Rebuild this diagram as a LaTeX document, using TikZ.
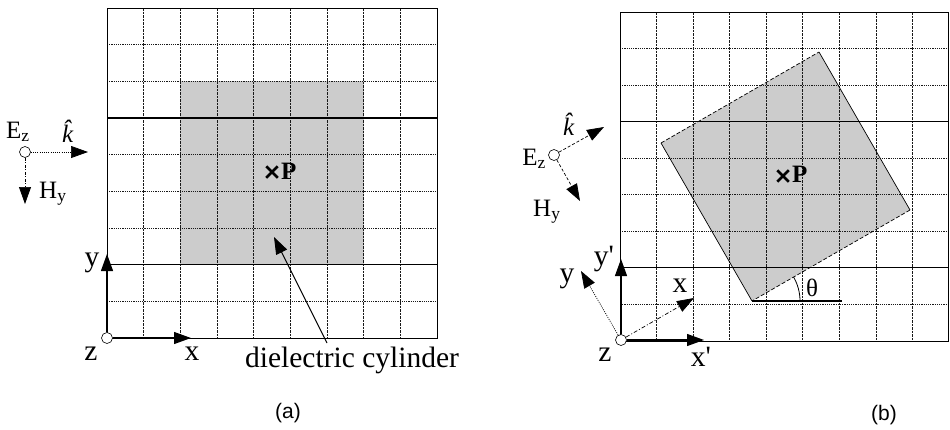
\documentclass[tikz,border=0pt]{standalone}
\usepackage{fontspec}
\setmainfont{Liberation Serif}
\newfontfamily\capfont{Liberation Sans}
\usetikzlibrary{arrows.meta,shapes.misc}
\begin{document}
\begin{tikzpicture}[x=1pt,y=-1pt,
  gridv/.style={line width=0.65pt, dash pattern=on 2.5pt off 1pt, black!90},
  gridh/.style={line width=0.65pt, dash pattern=on 1.2pt off 1pt, black!90},
  gridsolid/.style={line width=1.2pt, black},
  gridborder/.style={line width=0.9pt, black},
  shadefill/.style={fill=black!20},
  odot/.style={circle, draw, line width=0.6pt, inner sep=0pt, minimum size=11pt, fill=white,
    path picture={\fill (path picture bounding box.center) circle (1.4pt);}},
  tip/.style={-{Triangle[length=17pt,width=12pt]}},
  axarrow/.style={tip, line width=1.2pt},
  dotarrow/.style={tip, line width=0.7pt, dash pattern=on 1pt off 1.2pt},
  dasharrow/.style={tip, line width=0.7pt, dash pattern=on 3pt off 2pt},
  lbl/.style={font=\fontsize{29.5}{31}\selectfont, inner sep=0pt},
  slbl/.style={font=\fontsize{25}{27}\selectfont, inner sep=0pt},
  caplbl/.style={font=\capfont\fontsize{21}{23}\selectfont, inner sep=0pt},
  xmark/.style={cross out, draw, line width=2.5pt, minimum size=9pt, inner sep=0pt},
]
\useasboundingbox (0,0) rectangle (950,429);

%================ panel (a) ================
\def\xa{107}\def\ya{8}\def\ca{36.667}
\fill[shadefill] (\xa+2*\ca,\ya+2*\ca) rectangle (\xa+7*\ca,\ya+7*\ca);
\foreach \i in {1,...,8}{
  \draw[gridv] (\xa+\i*\ca,\ya) -- (\xa+\i*\ca,\ya+9*\ca);
}
\foreach \j in {1,2,4,5,6,8}{
  \draw[gridh] (\xa,\ya+\j*\ca) -- (\xa+9*\ca,\ya+\j*\ca);
}
\foreach \j in {3,7}{
  \draw[gridsolid] (\xa,\ya+\j*\ca) -- (\xa+9*\ca,\ya+\j*\ca);
}
\draw[gridborder] (\xa,\ya) rectangle (\xa+9*\ca,\ya+9*\ca);

% point P
\node[xmark] (pa) at (272,172) {};
\node[slbl, anchor=west, font=\fontsize{25}{27}\selectfont\bfseries] (pla) at (281,171) {P};

% axes
\node[odot] (oa) at (107,338) {};
\coordinate (xta) at (191,338);
\coordinate (yta) at (107,254);
\draw[axarrow] (oa.east) -- (xta);
\draw[axarrow] (oa.north) -- (yta);
\node[lbl] (xla) at (192,354) {x};
\node[lbl] (yla) at (92,263) {y};
\node[lbl] (zla) at (91,354) {z};

% dielectric cylinder
\node[lbl, anchor=base] (dc) at (352,367) {dielectric cylinder};
\coordinate (dct) at (274,237);
\draw[tip, line width=0.9pt] (327,343) -- (dct);

% source
\node[odot] (sa) at (25,152) {};
\coordinate (kta) at (88,152);
\coordinate (hta) at (25,204);
\draw[dotarrow] (sa.east) -- (kta);
\draw[dasharrow, dash pattern=on 3pt off 1.5pt on 1pt off 1.5pt] (sa.south) -- (hta);
\node[slbl, anchor=base west] (eza) at (6,138) {E\textsubscript{z}};
\node[slbl, anchor=base west] (ka) at (62,142) {\^{\itshape k}};
\node[slbl, anchor=base west] (hya) at (39,198) {H\textsubscript{y}};

\node[caplbl] (capa) at (288,413) {(a)};

%================ panel (b) ================
\def\xb{620}\def\yb{12}\def\cb{36.556}
\coordinate (T) at (819,52);
\coordinate (R) at (910,210);
\coordinate (B) at (752,301);
\coordinate (L) at (661,143);
\fill[shadefill] (T) -- (R) -- (B) -- (L) -- cycle;
\foreach \i in {1,...,8}{
  \draw[gridv] (\xb+\i*\cb,\yb) -- (\xb+\i*\cb,\yb+9*\cb);
}
\foreach \j in {1,2,4,5,6,8}{
  \draw[gridh] (\xb,\yb+\j*\cb) -- (\xb+9*\cb,\yb+\j*\cb);
}
\foreach \j in {3,7}{
  \draw[gridsolid] (\xb,\yb+\j*\cb) -- (\xb+9*\cb,\yb+\j*\cb);
}
\draw[gridborder] (\xb,\yb) rectangle (\xb+9*\cb-0.5,\yb+9*\cb);

\draw[line width=0.7pt] (T) -- (R);
\draw[line width=0.7pt, dash pattern=on 4pt off 2pt] (R) -- (B);
\draw[line width=0.7pt] (B) -- (L);
\draw[line width=0.7pt, dash pattern=on 4pt off 2pt] (L) -- (T);

% theta
\coordinate (thh) at (842,301);
\draw[line width=1.1pt] (B) -- (thh);
\draw[line width=0.8pt] (B) ++(48,0) arc[start angle=0, end angle=-30, radius=48];
\node[slbl] (thl) at (812,288) {θ};

% point P
\node[xmark] (pb) at (783,176) {};
\node[slbl, anchor=west, font=\fontsize{25}{27}\selectfont\bfseries] (plb) at (792,174) {P};

% axes
\node[odot] (ob) at (621,340) {};
\coordinate (xtb) at (704,340);
\coordinate (ytb) at (621,259);
\coordinate (rxb) at (694,298);
\coordinate (ryb) at (581,271);
\draw[axarrow] (ob.east) -- (xtb);
\draw[axarrow] (ob.north) -- (ytb);
\draw[dasharrow, dash pattern=on 4pt off 2pt on 1pt off 2pt] (ob.30) -- (rxb);
\draw[dotarrow] (ob.120) -- (ryb);
\node[lbl] (xpl) at (701,357) {x\textquotesingle};
\node[lbl] (ypl) at (604,259) {y\textquotesingle};
\node[lbl] (xlb) at (680,286) {x};
\node[lbl] (ylb) at (567,279) {y};
\node[lbl] (zlb) at (605,355) {z};

% source
\node[odot] (sb) at (554,155) {};
\coordinate (ktb) at (604,127);
\coordinate (htb) at (580,201);
\draw[dasharrow] (sb.30) -- (ktb);
\draw[dasharrow] (sb.-60) -- (htb);
\node[slbl, anchor=base east] (ezb) at (546,165) {E\textsubscript{z}};
\node[slbl, anchor=base west] (kb) at (563,135) {\^{\itshape k}};
\node[slbl, anchor=base west] (hyb) at (533,216) {H\textsubscript{y}};

\node[caplbl] (capb) at (884,415) {(b)};
\end{tikzpicture}
\end{document}
